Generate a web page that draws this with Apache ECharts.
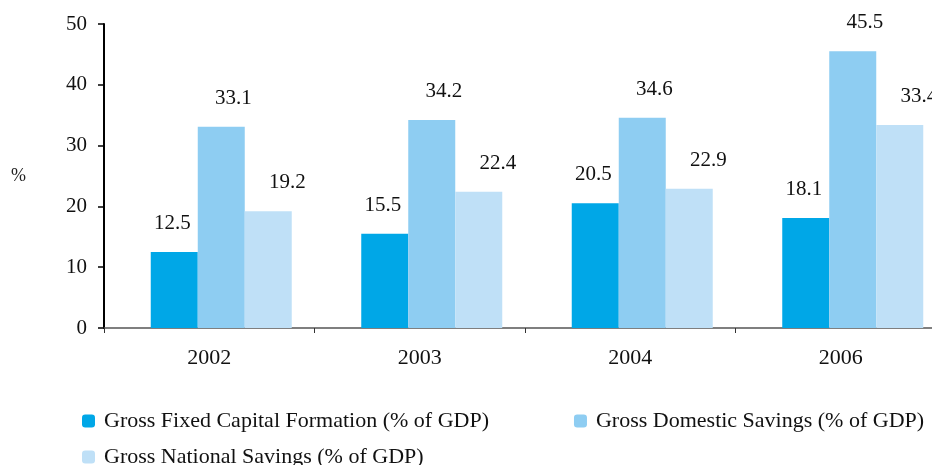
<!DOCTYPE html>
<html>
<head>
<meta charset="utf-8">
<script src="https://cdn.jsdelivr.net/npm/echarts@6/dist/echarts.min.js"></script>
<style>
  html, body { margin: 0; padding: 0; background: #fff; overflow: hidden; }
  /* 图表比窗口略宽，右侧被裁掉 */
  #chart { width: 946px; height: 465px; }
</style>
</head>
<body>
<div id="chart"></div>
<script>
// 数据
const years = ['2002', '2003', '2004', '2006'];
const fixedCapital = [12.5, 15.5, 20.5, 18.1];
const domesticSavings = [33.1, 34.2, 34.6, 45.5];
const nationalSavings = [19.2, 22.4, 22.9, 33.4];
const seriesNames = [
    'Gross Fixed Capital Formation (% of GDP)',
    'Gross Domestic Savings (% of GDP)',
    'Gross National Savings (% of GDP)'
];

const font = '"Liberation Serif", "DejaVu Serif", serif';

let myChart = echarts.init(document.getElementById('chart'));

// shiftX: 数值标签相对柱子中心的水平偏移
function barSeries(name, data, color, shiftX) {
    return {
        name: name,
        type: 'bar',
        barWidth: 47,
        barGap: 0,
        itemStyle: { color: color },
        label: {
            show: true,
            position: 'top',
            distance: 18,
            offset: [shiftX, 0],
            color: '#111',
            fontFamily: font,
            fontSize: 21
        },
        data: data
    };
}

let legendText = {
    color: '#111',
    fontFamily: font,
    fontSize: 22,
    padding: [0, 0, 0, 4]
};

let option = {
    animation: false,
    grid: {
        left: 104,
        top: 24,
        bottom: 137,
        right: 0
    },
    legend: [{
        data: [seriesNames[0], seriesNames[1]],
        left: 82,
        top: 410,
        padding: 0,
        itemWidth: 13,
        itemHeight: 13,
        itemGap: 85,
        textStyle: legendText
    }, {
        data: [seriesNames[2]],
        left: 82,
        top: 446,
        padding: 0,
        itemWidth: 13,
        itemHeight: 13,
        textStyle: legendText
    }],
    xAxis: {
        type: 'category',
        data: years,
        axisLine: { lineStyle: { color: '#555', width: 1.5 } },
        axisTick: { show: true, length: 5, lineStyle: { color: '#333' } },
        axisLabel: {
            color: '#111',
            fontFamily: font,
            fontSize: 22,
            margin: 19
        }
    },
    yAxis: {
        type: 'value',
        min: 0,
        max: 50,
        interval: 10,
        name: '%',
        nameLocation: 'middle',
        nameRotate: 0,
        nameGap: 78,
        nameTextStyle: { color: '#222', fontFamily: font, fontSize: 18 },
        splitLine: { show: false },
        axisLine: { show: true, lineStyle: { color: '#000', width: 2 } },
        axisTick: { show: true, length: 6, lineStyle: { color: '#000', width: 1.5 } },
        axisLabel: {
            color: '#111',
            fontFamily: font,
            fontSize: 21,
            margin: 17
        }
    },
    series: [
        // 占位系列：让每组柱子向右偏一点
        { name: 'spacer', type: 'bar', barWidth: 24, barGap: 0, data: [], silent: true },
        barSeries(seriesNames[0], fixedCapital, '#00a7e7', -2),
        barSeries(seriesNames[1], domesticSavings, '#8ecdf2', 12),
        barSeries(seriesNames[2], nationalSavings, '#bfe0f7', 19)
    ]
};
myChart.setOption(option);
</script>
</body>
</html>
